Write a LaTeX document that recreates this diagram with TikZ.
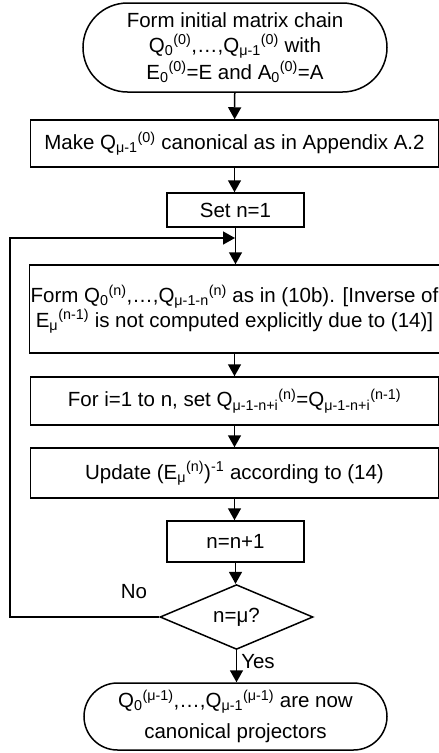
\documentclass[tikz,border=0pt]{standalone}
\usepackage{fontspec}
\setmainfont{Liberation Sans}
\usepackage{tikz}
\usetikzlibrary{arrows.meta}
\usetikzlibrary{shapes.misc, shapes.geometric}
\newcommand{\sbsp}[2]{\textsubscript{#1}\textsuperscript{#2}}

\begin{document}
\begin{tikzpicture}[%
    x=1pt, y=-1pt,
    font=\fontsize{20.5}{23}\selectfont,
    block/.style={
      rectangle,
      draw=black,
      line width=1.5pt,
      align=center,
      inner sep=1pt,
      minimum width=408pt
    },
    smallblock/.style={
      block,
      minimum width=137pt
    },
    terminal/.style={
      rounded rectangle,
      draw=black,
      line width=1.5pt,
      align=center,
      inner sep=1pt
    },
    decision/.style={
      diamond,
      draw=black,
      line width=1.5pt,
      inner sep=0pt,
      minimum width=153pt,
      minimum height=57pt
    },
    line width=1.5pt,
    >={Triangle[length=12pt,width=13pt]}
    ]
    \useasboundingbox (0,0) rectangle (439,753);
    \draw (235,47.5) node[terminal, minimum width=306pt, minimum height=89pt] (start)
      {Form initial matrix chain\\[2pt] Q\sbsp{0}{(0)},\dots,Q\sbsp{μ-1}{(0)} with\\[2pt] E\sbsp{0}{(0)}=E and A\sbsp{0}{(0)}=A};
    \draw (234.5,143.5) node[block, minimum height=47pt] (canon)
      {Make Q\sbsp{μ-1}{(0)} canonical as in Appendix A.2};
    \draw (235.5,210) node[smallblock, minimum height=34pt] (setn) {Set n=1};
    \draw (234.5,309) node[block, minimum height=88pt] (form)
      {Form Q\sbsp{0}{(n)},\dots,Q\sbsp{μ-1-n}{(n)} as in (10b). [Inverse of\\[0pt]
       E\sbsp{μ}{(n-1)} is not computed explicitly due to (14)]};
    \draw (234.5,401) node[block, minimum height=48pt] (copy)
      {For i=1 to n, set Q\sbsp{μ-1-n+i}{(n)}=Q\sbsp{μ-1-n+i}{(n-1)}};
    \draw (234.5,473) node[block, minimum height=50pt] (update)
      {Update (E\sbsp{μ}{(n)})\textsuperscript{-1} according to (14)};
    \draw (235.5,541.5) node[smallblock, minimum height=41pt] (incr) {n=n+1};
    \draw (236.5,617) node[decision] (test) {n=μ?};
    \draw (235.5,716.5) node[terminal, minimum width=305pt, minimum height=67pt] (stop)
      {Q\sbsp{0}{(μ-1)},\dots,Q\sbsp{μ-1}{(μ-1)} are now\\[8pt] canonical projectors};

    \coordinate (join) at (235,238);
    \coordinate (corner) at (10,617);

    \draw [->] (start) -- (canon);
    \draw [->] (canon) -- (canon|-setn.north);
    \draw [->] (setn) -- (setn|-form.north);
    \draw [->] (form) -- (form|-copy.north);
    \draw [->] (copy) -- (copy|-update.north);
    \draw [->] (update) -- (update|-incr.north);
    \draw [->] (incr) -- (incr|-test.north);
    \draw [->] (test) -- (test|-stop.north) node[pos=0.35,right,inner sep=4pt] () {Yes};
    \draw [->] (test.west) -- (corner) |- (join);
    \node at (134,592) (no) {No};
  \end{tikzpicture}
\end{document}
